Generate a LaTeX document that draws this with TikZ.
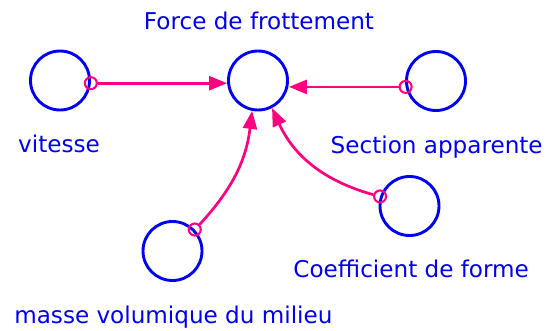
\documentclass[tikz,border=0pt]{standalone}
\usepackage{fontspec}
\setmainfont{DejaVu Sans}
\usetikzlibrary{arrows.meta}
\definecolor{varblue}{RGB}{0,0,245}
\definecolor{linkpink}{RGB}{255,0,128}
\tikzset{
  var/.style={circle, draw=varblue, line width=2.9pt, minimum size=59pt, inner sep=0pt},
  tap/.style={circle, draw=linkpink, line width=2.1pt, minimum size=12pt, inner sep=0pt},
  link/.style={draw=linkpink, line width=2.7pt, -{Triangle[length=18pt,width=14pt]}},
  lbl/.style={text=varblue, font=\fontsize{23.1}{28}\selectfont, anchor=base, inner sep=0pt}
}
\begin{document}
\begin{tikzpicture}[x=1pt,y=-1pt]
  \useasboundingbox (0,0) rectangle (556,331);
  % variables
  \node[var] (force) at (258,80.5) {};
  \node[var] (vit)   at (60,80.5) {};
  \node[var] (sec)   at (436,81) {};
  \node[var] (masse) at (172.5,251) {};
  \node[var] (coef)  at (409.5,206) {};
  % labels
  \node[lbl] (lforce) at (259,29.3) {Force de frottement};
  \node[lbl] (lvit)   at (59,152.7) {vitesse};
  \node[lbl] (lsec)   at (436.7,153.3) {Section apparente};
  \node[lbl] (lcoef)  at (411.2,277.7) {Coefficient de forme};
  \node[lbl] (lmasse) at (173.4,323) {masse volumique du milieu};
  % link origins on the source circles
  \node[tap] (tv) at (vit.-5) {};
  \node[tap] (ts) at (sec.191) {};
  \node[tap] (tm) at (masse.44) {};
  \node[tap] (tc) at (coef.162) {};
  % links
  \draw[link] (tv) -- (tv -| force.west);
  \draw[link] (ts) -- (ts -| force.east);
  \draw[link] (tm) to[bend right=18] (force.259);
  \draw[link] (tc) to[bend left=25] (force.297);
\end{tikzpicture}
\end{document}
